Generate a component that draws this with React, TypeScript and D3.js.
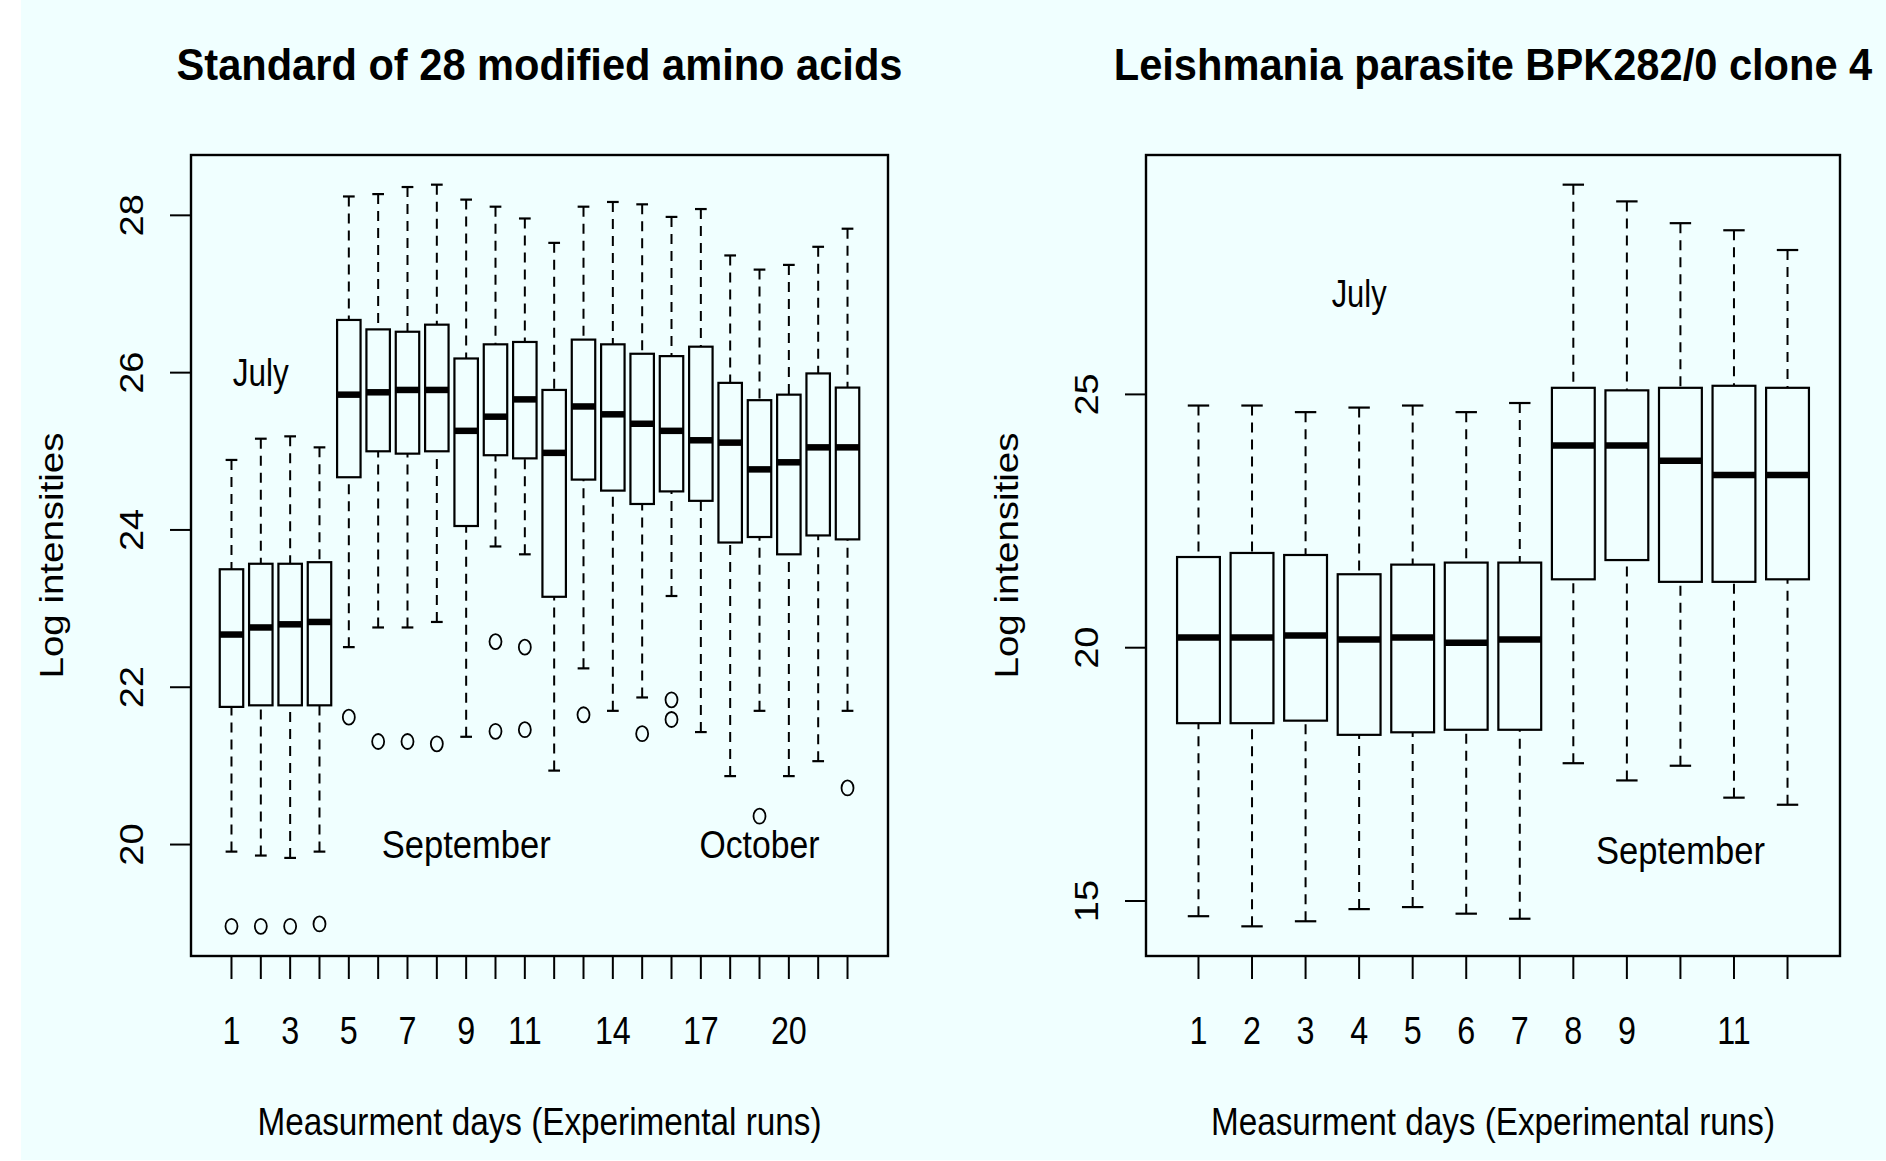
import React from 'react';
import * as d3 from 'd3';

const W = 1886;
const H = 1161;

// Left panel: standard of 28 modified amino acids, 22 measurement runs
const stdRuns = d3.range(1, 23);
const stdLower = [19.91, 19.86, 19.83, 19.91, 22.51, 22.76, 22.76, 22.83, 21.37, 23.79, 23.69, 20.94, 22.24, 21.70, 21.87, 23.16, 21.43, 20.87, 21.70, 20.87, 21.06, 21.70];
const stdQ1 = [21.75, 21.77, 21.77, 21.77, 24.67, 25.00, 24.97, 25.00, 24.05, 24.95, 24.91, 23.15, 24.64, 24.50, 24.33, 24.49, 24.37, 23.84, 23.91, 23.69, 23.93, 23.88];
const stdMedian = [22.67, 22.76, 22.80, 22.83, 25.72, 25.75, 25.78, 25.78, 25.26, 25.44, 25.66, 24.98, 25.57, 25.47, 25.35, 25.26, 25.14, 25.11, 24.77, 24.86, 25.05, 25.05];
const stdQ3 = [23.50, 23.57, 23.57, 23.59, 26.67, 26.55, 26.52, 26.61, 26.18, 26.36, 26.39, 25.78, 26.42, 26.36, 26.24, 26.21, 26.33, 25.87, 25.65, 25.72, 25.99, 25.81];
const stdUpper = [24.89, 25.16, 25.19, 25.05, 28.24, 28.27, 28.36, 28.39, 28.20, 28.11, 27.96, 27.65, 28.11, 28.17, 28.14, 27.98, 28.08, 27.49, 27.31, 27.37, 27.60, 27.83];
const stdOutliers = [[18.96], [18.96], [18.96], [18.99], [21.62], [21.31], [21.31], [21.28], [], [22.58, 21.44], [22.51, 21.46], [], [21.65], [], [21.41], [21.84, 21.59], [], [], [20.36], [], [], [20.72]];
const stdYTicks = [20, 22, 24, 26, 28];
const stdXLabels = [1, 3, 5, 7, 9, 11, 14, 17, 20];
const stdNotes = [
  { text: 'July', x: 2, y: 26, len: 56 },
  { text: 'September', x: 9, y: 20, len: 169 },
  { text: 'October', x: 19, y: 20, len: 120 },
];

// Right panel: Leishmania parasite, 12 runs
const lshRuns = d3.range(1, 13);
const lshLower = [14.70, 14.50, 14.60, 14.84, 14.88, 14.75, 14.65, 17.72, 17.38, 17.67, 17.04, 16.90];
const lshQ1 = [18.51, 18.51, 18.56, 18.28, 18.33, 18.38, 18.38, 21.35, 21.73, 21.30, 21.30, 21.35];
const lshMedian = [20.20, 20.20, 20.24, 20.16, 20.20, 20.10, 20.16, 23.99, 23.99, 23.69, 23.41, 23.41];
const lshQ3 = [21.79, 21.87, 21.83, 21.45, 21.64, 21.68, 21.68, 25.13, 25.08, 25.13, 25.17, 25.13];
const lshUpper = [24.78, 24.78, 24.65, 24.74, 24.78, 24.65, 24.83, 29.14, 28.81, 28.38, 28.24, 27.85];
const lshOutliers = lshRuns.map(() => [] as number[]);
const lshYTicks = [15, 20, 25];
const lshXLabels = [1, 2, 3, 4, 5, 6, 7, 8, 9, 11];
const lshNotes = [
  { text: 'July', x: 4, y: 27, len: 55 },
  { text: 'September', x: 10, y: 16, len: 169 },
];

const FONT = '"Liberation Sans", Arial, Helvetica, sans-serif';
const AX = 38; // axis text size
const SX = 0.85; // horizontal squeeze of the original raster

type PanelProps = {
  x0: number; x1: number; y0: number; y1: number;
  runs: number[]; lower: number[]; q1: number[]; med: number[]; q3: number[]; upper: number[];
  outliers: number[][]; yTicks: number[]; xLabels: number[];
  title: string; titleSx: number;
  notes: { text: string; x: number; y: number; len: number }[];
};

const Panel = (p: PanelProps) => {
  const n = p.runs.length;
  const xs = d3.scaleLinear().domain([0.5 - 0.04 * n, n + 0.5 + 0.04 * n]).range([p.x0, p.x1]);
  const all = [...p.lower, ...p.upper, ...p.outliers.flat()];
  const [mn, mx] = d3.extent(all) as [number, number];
  const pad = (mx - mn) * 0.04;
  const ys = d3.scaleLinear().domain([mn - pad, mx + pad]).range([p.y1, p.y0]);
  const bw = (xs(1) - xs(0)) * 0.8;
  const sw = bw * 0.25;
  const cx = (p.x0 + p.x1) / 2;
  const cy = (p.y0 + p.y1) / 2;

  return (
    <g fontFamily={FONT} fill="#000">
      <text transform={`translate(${cx},80) scale(${p.titleSx},1)`} textAnchor="middle" fontWeight="bold"
        fontSize={45}>{p.title}</text>

      {p.runs.map((r, i) => {
        const x = xs(r);
        return (
          <g key={r}>
            <line x1={x} x2={x} y1={ys(p.upper[i])} y2={ys(p.q3[i])} stroke="#000" strokeWidth={2} strokeDasharray="10,7" />
            <line x1={x} x2={x} y1={ys(p.lower[i])} y2={ys(p.q1[i])} stroke="#000" strokeWidth={2} strokeDasharray="10,7" />
            <line x1={x - sw} x2={x + sw} y1={ys(p.upper[i])} y2={ys(p.upper[i])} stroke="#000" strokeWidth={2.2} />
            <line x1={x - sw} x2={x + sw} y1={ys(p.lower[i])} y2={ys(p.lower[i])} stroke="#000" strokeWidth={2.2} />
            <rect x={x - bw / 2} y={ys(p.q3[i])} width={bw} height={ys(p.q1[i]) - ys(p.q3[i])}
              fill="none" stroke="#000" strokeWidth={2.2} />
            <line x1={x - bw / 2} x2={x + bw / 2} y1={ys(p.med[i])} y2={ys(p.med[i])} stroke="#000" strokeWidth={6.5} />
            {p.outliers[i].map((o, j) => (
              <ellipse key={j} cx={x} cy={ys(o)} rx={6} ry={7.5} fill="none" stroke="#000" strokeWidth={1.8} />
            ))}
          </g>
        );
      })}

      {p.notes.map((t) => (
        <text key={t.text} x={xs(t.x)} y={ys(t.y)} dy="0.36em" textAnchor="middle" fontSize={AX}
          textLength={t.len} lengthAdjust="spacingAndGlyphs">{t.text}</text>
      ))}

      <rect x={p.x0} y={p.y0} width={p.x1 - p.x0} height={p.y1 - p.y0} fill="none" stroke="#000" strokeWidth={2.4} />

      {/* x axis */}
      {p.runs.map((r) => (
        <line key={r} x1={xs(r)} x2={xs(r)} y1={p.y1} y2={p.y1 + 23} stroke="#000" strokeWidth={2} />
      ))}
      {p.xLabels.map((r) => (
        <text key={r} transform={`translate(${xs(r)},1044) scale(${SX},1)`} textAnchor="middle" fontSize={AX}>{r}</text>
      ))}
      <text x={cx} y={1135} textAnchor="middle" fontSize={AX} textLength={564} lengthAdjust="spacingAndGlyphs">
        Measurment days (Experimental runs)
      </text>

      {/* y axis */}
      {p.yTicks.map((t) => (
        <g key={t}>
          <line x1={p.x0 - 21} x2={p.x0} y1={ys(t)} y2={ys(t)} stroke="#000" strokeWidth={2} />
          <text transform={`translate(${p.x0 - 60},${ys(t)}) rotate(-90) scale(1,${SX})`} dy="0.36em"
            textAnchor="middle" fontSize={AX}>{t}</text>
        </g>
      ))}
      <text transform={`translate(${p.x0 - 140},${cy}) rotate(-90) scale(1,${SX})`} dy="0.36em"
        textAnchor="middle" fontSize={AX} textLength={246} lengthAdjust="spacingAndGlyphs">Log intensities</text>
    </g>
  );
};

export default function App() {
  return (
    <svg width={W} height={H} viewBox={`0 0 ${W} ${H}`}
      style={{ position: 'absolute', left: 0, top: 0, display: 'block', background: '#fff' }}>
      <rect x={21} y={0} width={W - 21} height={H - 1} fill="#F0FFFF" />
      <Panel x0={191} x1={888} y0={155} y1={956}
        runs={stdRuns} lower={stdLower} q1={stdQ1} med={stdMedian} q3={stdQ3} upper={stdUpper}
        outliers={stdOutliers} yTicks={stdYTicks} xLabels={stdXLabels}
        title="Standard of 28 modified amino acids" titleSx={0.925} notes={stdNotes} />
      <Panel x0={1146} x1={1840} y0={155} y1={956}
        runs={lshRuns} lower={lshLower} q1={lshQ1} med={lshMedian} q3={lshQ3} upper={lshUpper}
        outliers={lshOutliers} yTicks={lshYTicks} xLabels={lshXLabels}
        title="Leishmania parasite BPK282/0 clone 4" titleSx={0.925} notes={lshNotes} />
    </svg>
  );
}
